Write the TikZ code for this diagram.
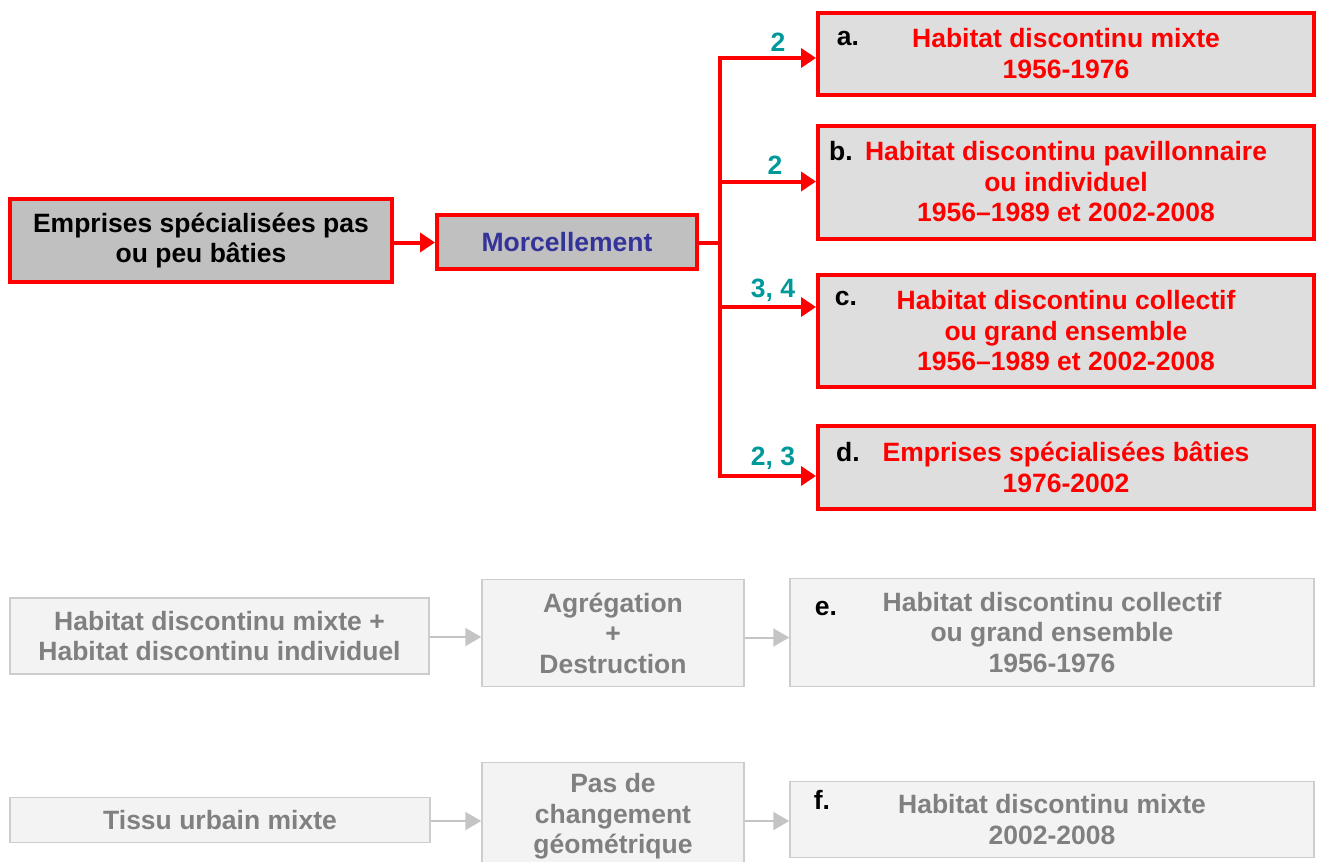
\documentclass[tikz,border=0pt]{standalone}
\usepackage{fontspec}
\setmainfont{Liberation Sans}
\usetikzlibrary{arrows.meta}
\definecolor{rd}{HTML}{FF0000}
\definecolor{tl}{HTML}{009999}
\definecolor{bl}{HTML}{333399}
\definecolor{gt}{HTML}{808080}
\definecolor{gb}{HTML}{CDCDCD}
\definecolor{ga}{HTML}{C4C4C4}
\definecolor{gf}{HTML}{F3F3F3}
\definecolor{df}{HTML}{C0C0C0}
\definecolor{lf}{HTML}{DEDEDE}
\begin{document}
\begin{tikzpicture}[x=1pt,y=-1pt,
  txt/.style={font=\fontsize{26.5}{30.5}\selectfont\bfseries, align=center, inner sep=0pt},
  redbox/.style={txt, draw=rd, line width=4pt, rectangle},
  graybox/.style={txt, draw=gb, fill=gf, line width=1.5pt, rectangle, text=gt},
  redarrow/.style={draw=rd, line width=4pt, -{Triangle[length=15pt,width=19pt]}},
  grayarrow/.style={draw=ga, line width=2pt, -{Triangle[length=16pt,width=18pt]}},
  num/.style={txt, text=tl},
  letter/.style={txt, text=black}
]
\useasboundingbox (0,0) rectangle (1318,862);
% top part
\node[redbox, fill=df, minimum width=382pt, minimum height=83pt] (src) at (201,240.5) {Emprises spécialisées pas\\ou peu bâties};
\node[redbox, fill=df, minimum width=260pt, minimum height=54pt, text=bl] (morc) at (567,242) {Morcellement};
\node[redbox, fill=lf, minimum width=496pt, minimum height=82pt, text=rd] (a) at (1066,53.5) {Habitat discontinu mixte\\1956-1976};
\node[redbox, fill=lf, minimum width=496pt, minimum height=113pt, text=rd] (b) at (1066,182) {Habitat discontinu pavillonnaire\\ou individuel\\1956–1989 et 2002-2008};
\node[redbox, fill=lf, minimum width=496pt, minimum height=112pt, text=rd] (c) at (1066,331) {Habitat discontinu collectif\\ou grand ensemble\\1956–1989 et 2002-2008};
\node[redbox, fill=lf, minimum width=496pt, minimum height=83pt, text=rd] (d) at (1066,467) {Emprises spécialisées bâties\\1976-2002};
\node[letter] (la) at (848,38) {a.};
\node[letter] (lb) at (841,151) {b.};
\node[letter] (lc) at (846,298) {c.};
\node[letter] (ld) at (848,452) {d.};
\coordinate (j) at (720,243);
\draw[redarrow] ([yshift=-2pt]src.east) -- ([yshift=-2pt]src.east -| morc.west);
\draw[draw=rd, line width=4pt] ([yshift=-1pt]morc.east) -- (j);
\draw[redarrow] (j) |- ([yshift=-4.5pt]a.west);
\draw[redarrow] (j) |- ([yshift=0.5pt]b.west);
\draw[redarrow] (j) |- ([yshift=24pt]c.west);
\draw[redarrow] (j) |- ([yshift=-9pt]d.west);
\node[num] (na) at (778,42) {2};
\node[num] (nb) at (775,165) {2};
\node[num] (nc) at (773,290) {3, 4};
\node[num] (nd) at (773,458) {2, 3};
% bottom part
\node[graybox, minimum width=419pt, minimum height=76pt] (g1) at (219.5,636) {Habitat discontinu mixte +\\Habitat discontinu individuel};
\node[graybox, minimum width=262pt, minimum height=107pt] (g2) at (613,633) {Agrégation\\+\\Destruction};
\node[graybox, minimum width=524pt, minimum height=108pt] (g3) at (1052,632.5) {Habitat discontinu collectif\\ou grand ensemble\\1956-1976};
\node[letter] (le) at (826,608) {e.};
\draw[grayarrow] ([yshift=-1pt]g1.east) -- ([yshift=-1pt]g1.east -| g2.west);
\draw[grayarrow] ([yshift=-4.5pt]g2.east) -- ([yshift=-4.5pt]g2.east -| g3.west);
\node[graybox, minimum width=420pt, minimum height=45pt] (g4) at (220,820) {Tissu urbain mixte};
\node[graybox, minimum width=262pt, minimum height=108pt] (g5) at (613,816.5) {Pas de\\changement\\géométrique};
\node[graybox, minimum width=524pt, minimum height=76pt] (g6) at (1052,819.5) {Habitat discontinu mixte\\2002-2008};
\node[letter] (lf) at (822,800) {f.};
\draw[grayarrow] ([yshift=-1pt]g4.east) -- ([yshift=-1pt]g4.east -| g5.west);
\draw[grayarrow] ([yshift=-1.5pt]g6.west -| g5.east) -- ([yshift=-1.5pt]g6.west);
\end{tikzpicture}
\end{document}
